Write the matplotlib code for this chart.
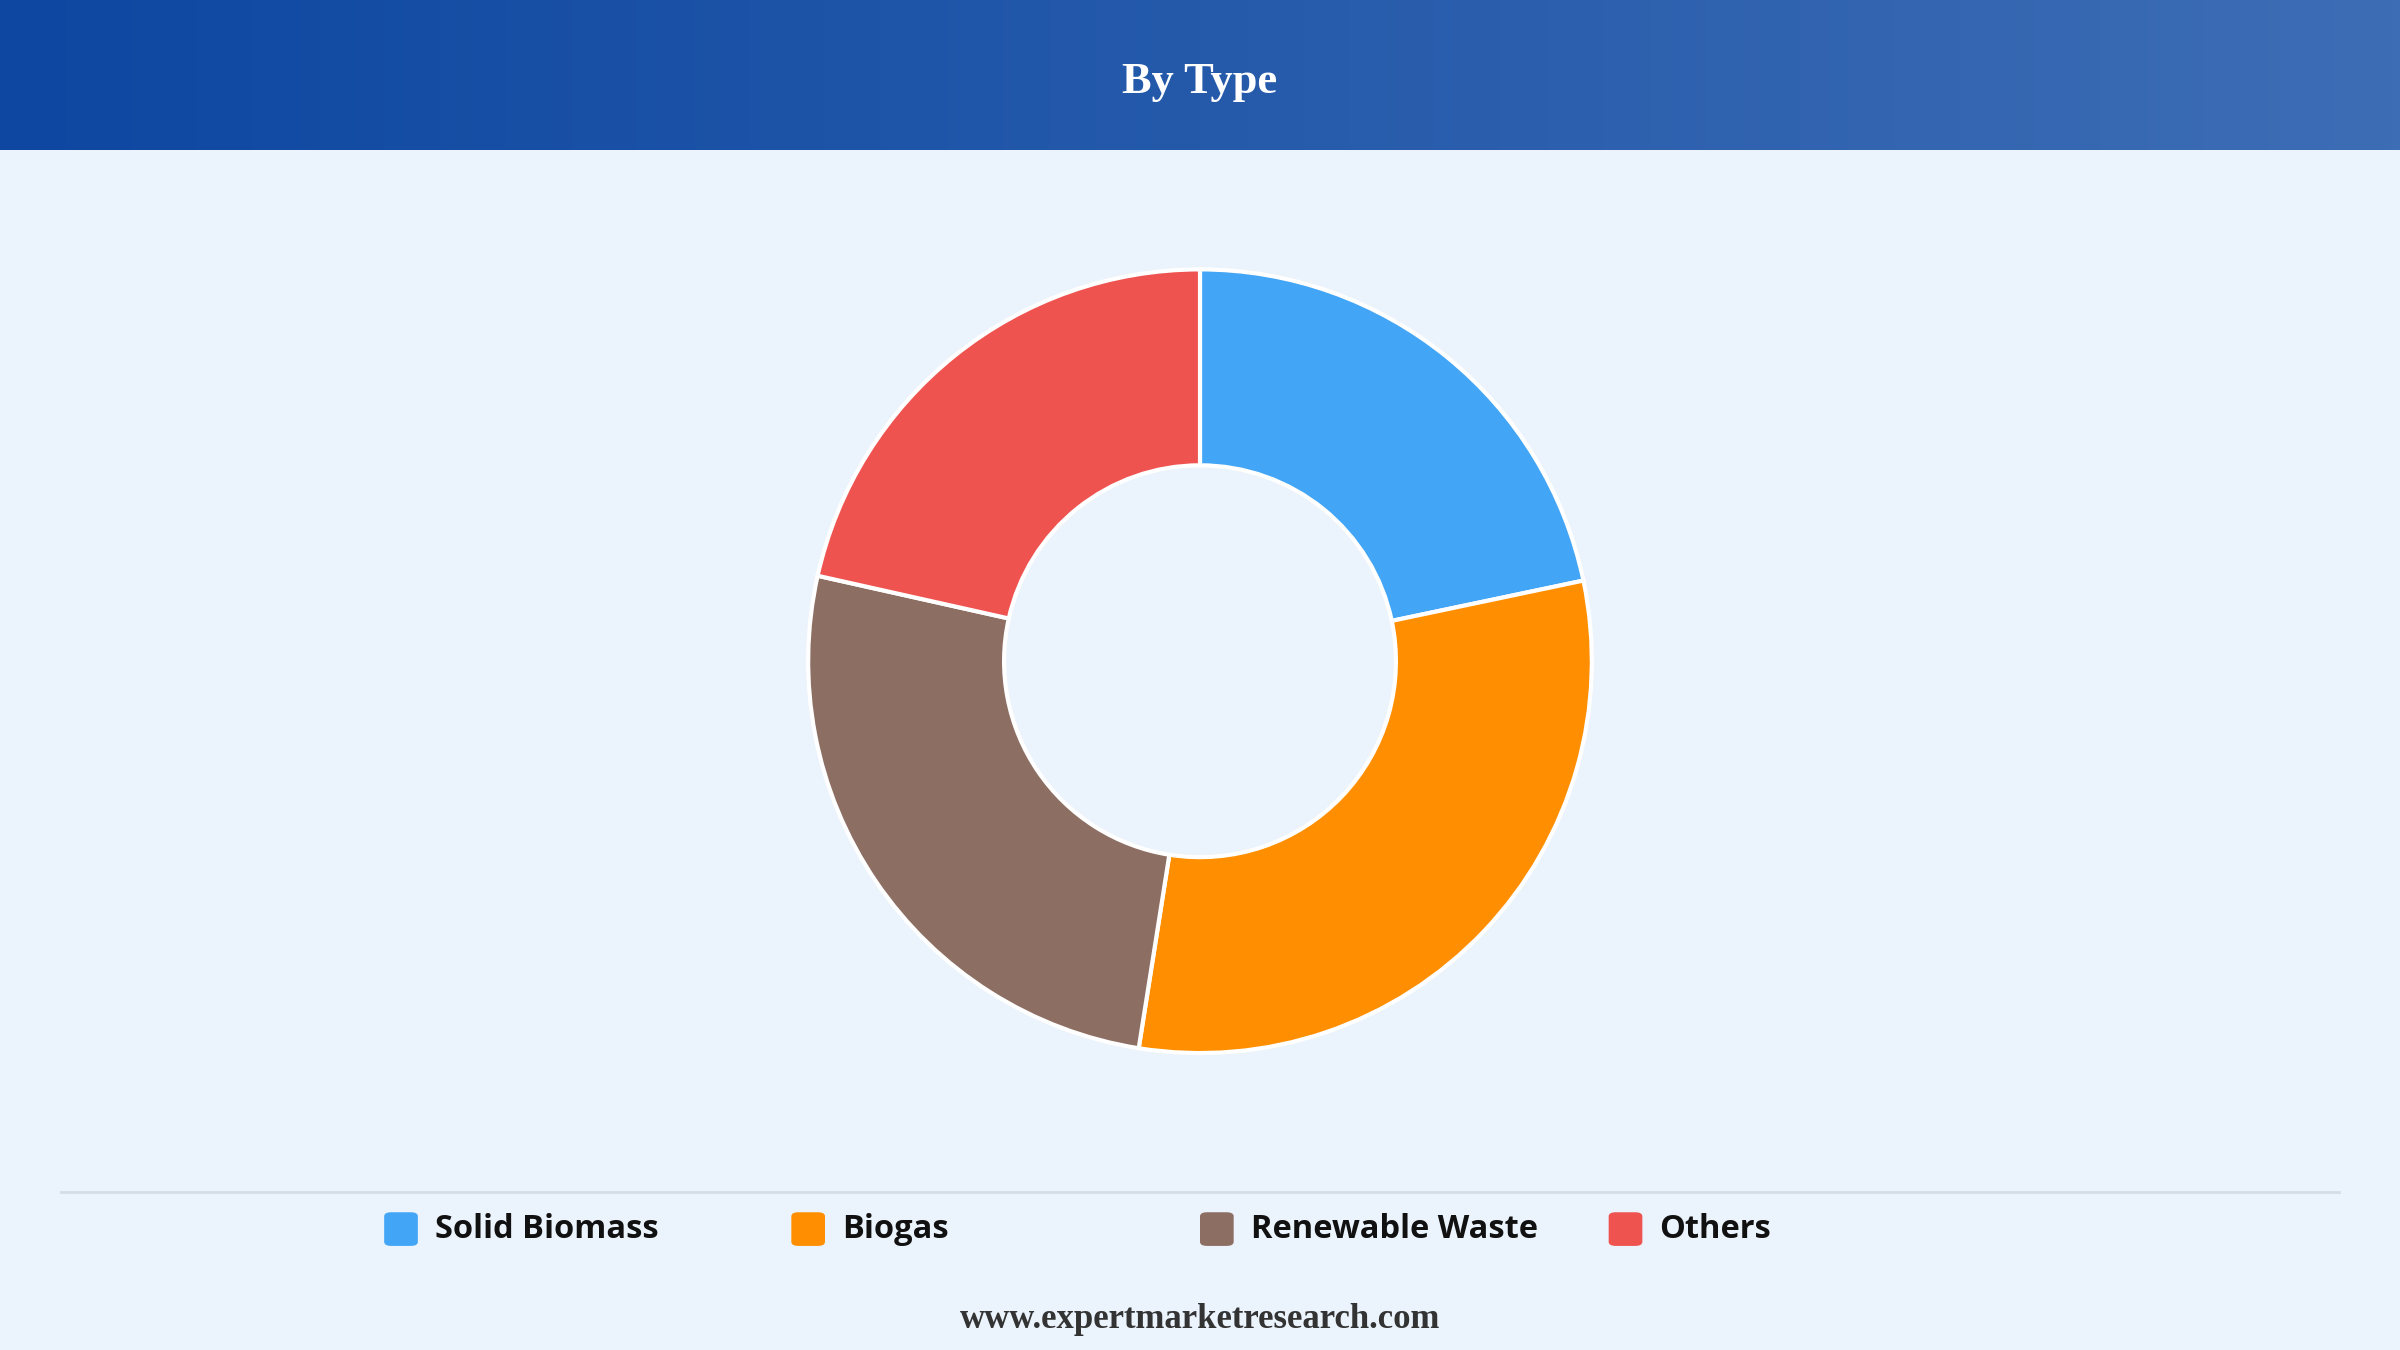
import matplotlib
matplotlib.use("Agg")
import matplotlib.pyplot as plt
import numpy as np
from matplotlib.patches import FancyBboxPatch
from matplotlib.colors import LinearSegmentedColormap

categories = ["Solid Biomass", "Biogas", "Renewable Waste", "Others"]
values = [21.7, 30.8, 26.0, 21.5]
colors = ["#42A5F5", "#FF8F00", "#8D6E63", "#EF5350"]

W, H = 2400, 1350
fig = plt.figure(figsize=(24, 13.5), dpi=100)
fig.patch.set_facecolor("#EBF3FC")

# header gradient
hax = fig.add_axes([0, 1 - 98/882, 1, 98/882])
grad = np.linspace(0, 1, 256).reshape(1, -1)
cmap = LinearSegmentedColormap.from_list("h", ["#0D47A1", "#3D6DB5"])
hax.imshow(grad, aspect="auto", cmap=cmap, extent=[0, 1, 0, 1])
hax.set_axis_off()
hax.text(0.5, 0.45, "By Type", ha="center", va="center", color="white",
         fontsize=32, fontweight="bold", family="Liberation Serif")

# donut
r_frac = 256/882
cy = 1 - 432/882
aw = 2*r_frac*H/W
ax = fig.add_axes([0.5 - aw/2, cy - r_frac, aw, 2*r_frac])
ax.pie(values, colors=colors, startangle=90, counterclock=False, radius=1,
       wedgeprops=dict(width=0.5, edgecolor="white", linewidth=3))
ax.set_xlim(-1, 1); ax.set_ylim(-1, 1)
ax.set_aspect("equal")
ax.set_axis_off()

# separator line
fig.add_artist(plt.Line2D([40/1568, 1528/1568], [1-779/882]*2, color="#D6DCE4", lw=2))

# legend
ly = 1 - 803/882
xs = [262, 528, 795, 1062]
for x, c, lab in zip(xs, colors, categories):
    p = FancyBboxPatch(((x-11)/1568, ly - 11/882), 22/1568, 22/882,
                       boxstyle="round,pad=0,rounding_size=0.003",
                       transform=fig.transFigure, facecolor=c, edgecolor="none")
    fig.add_artist(p)
    fig.text((x+22)/1568, ly, lab, ha="left", va="center", fontsize=23.5,
             fontweight="bold", color="#111111", family="Open Sans")

fig.text(0.5, 1 - 862/882, "www.expertmarketresearch.com", ha="center", va="center",
         fontsize=25, fontweight="bold", color="#333333", family="Liberation Serif")

fig.savefig("out.png", dpi=100, facecolor=fig.get_facecolor())
